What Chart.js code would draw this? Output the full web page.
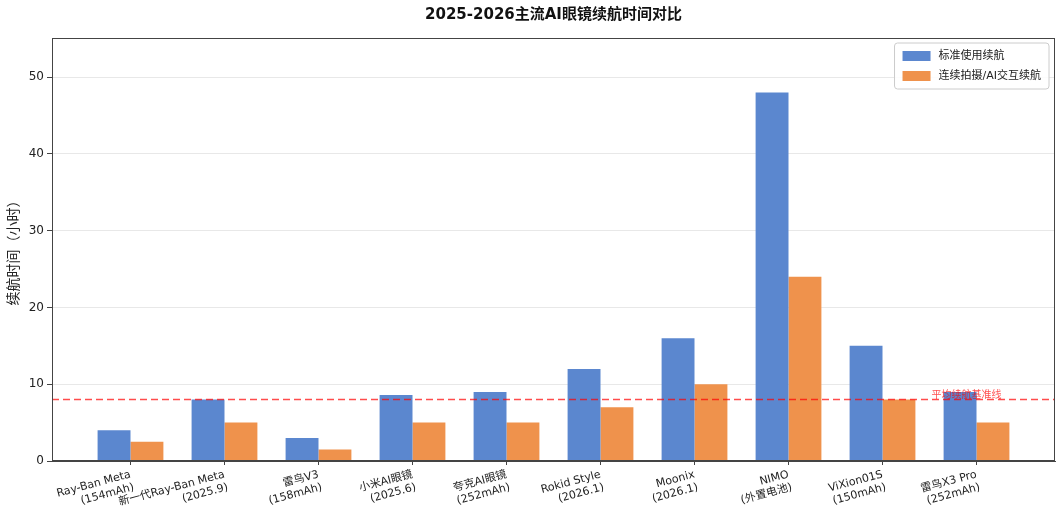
<!DOCTYPE html>
<html>
<head>
<meta charset="utf-8">
<script src="https://cdn.jsdelivr.net/npm/chart.js@4"></script>
<style>
  html, body { margin: 0; padding: 0; background: #fff; }
  #wrap { width: 1060px; height: 514px; }
</style>
</head>
<body>
<div id="wrap"><canvas id="batteryChart" width="1060" height="514"></canvas></div>
<script>
// Data
const categories = [
  ["Ray-Ban Meta", "(154mAh)"],
  ["新一代Ray-Ban Meta", "(2025.9)"],
  ["雷鸟V3", "(158mAh)"],
  ["小米AI眼镜", "(2025.6)"],
  ["夸克AI眼镜", "(252mAh)"],
  ["Rokid Style", "(2026.1)"],
  ["Moonix", "(2026.1)"],
  ["NIMO", "(外置电池)"],
  ["ViXion01S", "(150mAh)"],
  ["雷鸟X3 Pro", "(252mAh)"]
];
const typicalHours = [4, 8, 3, 8.6, 9, 12, 16, 48, 15, 9];
const heavyHours = [2.5, 5, 1.5, 5, 5, 7, 10, 24, 8, 5];
const avgLine = 8;
const seriesNames = ["标准使用续航", "连续拍摄/AI交互续航"];
const avgLabel = "平均续航基准线";
const yTicks = [0, 10, 20, 30, 40, 50];

const xMin = -0.835, xMax = categories.length - 1 + 0.835;
const BLUE = "#5b87cf";
const ORANGE = "#ef924c";
const FONT = "'DejaVu Sans', 'Noto Sans CJK SC', sans-serif";

// frame + legend + ref label
const decorPlugin = {
  id: "decor",
  afterDraw(chart) {
    const { ctx, chartArea: a, scales } = chart;
    ctx.save();
    ctx.strokeStyle = "#444";
    ctx.lineWidth = 1;
    ctx.strokeRect(a.left + 0.5, a.top + 0.5, a.right - a.left - 1, a.bottom - a.top - 1);

    // avg label
    ctx.fillStyle = "rgba(255,0,0,0.7)";
    ctx.font = "10px " + FONT;
    ctx.textBaseline = "bottom";
    ctx.textAlign = "left";
    ctx.fillText(avgLabel, scales.x.getPixelForValue(8.52), scales.y.getPixelForValue(avgLine) + 1);

    // legend
    ctx.font = "11px " + FONT;
    const tw = Math.max(...seriesNames.map((n) => ctx.measureText(n).width));
    const bw = 52 + tw, bh = 46;
    const bx = a.right - 6 - bw, by = a.top + 5;
    ctx.fillStyle = "rgba(255,255,255,0.85)";
    ctx.strokeStyle = "#ccc";
    ctx.beginPath();
    ctx.roundRect(bx, by, bw, bh, 3);
    ctx.fill();
    ctx.stroke();
    const cols = [BLUE, ORANGE];
    ctx.textBaseline = "middle";
    seriesNames.forEach((name, i) => {
      const yy = by + 13 + i * 20;
      ctx.fillStyle = cols[i];
      ctx.fillRect(bx + 8, yy - 5, 28, 10);
      ctx.fillStyle = "#222";
      ctx.fillText(name, bx + 44, yy);
    });
    ctx.restore();
  }
};

const ctx = document.getElementById("batteryChart").getContext("2d");
new Chart(ctx, {
  type: "bar",
  data: {
    datasets: [
      {
        label: seriesNames[0],
        data: typicalHours.map((v, i) => ({ x: i, y: v })),
        backgroundColor: BLUE,
        categoryPercentage: 0.7,
        barPercentage: 1.0,
        order: 2
      },
      {
        label: seriesNames[1],
        data: heavyHours.map((v, i) => ({ x: i, y: v })),
        backgroundColor: ORANGE,
        categoryPercentage: 0.7,
        barPercentage: 1.0,
        order: 2
      },
      {
        type: "line",
        label: avgLabel,
        data: [{ x: xMin, y: avgLine }, { x: xMax, y: avgLine }],
        borderColor: "rgba(255,0,0,0.7)",
        borderWidth: 1.5,
        borderDash: [7, 4],
        pointRadius: 0,
        order: 1
      }
    ]
  },
  options: {
    responsive: false,
    animation: false,
    layout: { padding: { left: 6, right: 5, top: 0, bottom: 0 } },
    plugins: {
      legend: { display: false },
      tooltip: { enabled: false },
      title: {
        display: true,
        fullSize: false,
        text: "2025-2026主流AI眼镜续航时间对比",
        color: "#111",
        font: { family: FONT, size: 15, weight: "bold" },
        padding: { top: 6, bottom: 14 }
      }
    },
    scales: {
      x: {
        type: "linear",
        min: xMin,
        max: xMax,
        offset: false,
        afterBuildTicks: (s) => { s.ticks = categories.map((c, i) => ({ value: i })); },
        afterFit: (s) => { s.height = 53; },
        grid: { offset: false, drawOnChartArea: false, tickLength: 4, tickColor: "#444" },
        border: { color: "#444" },
        ticks: {
          autoSkip: false,
          minRotation: 15,
          maxRotation: 15,
          padding: 3,
          color: "#222",
          font: { family: FONT, size: 11 },
          callback: (v) => categories[v] || ""
        }
      },
      y: {
        min: 0,
        max: 55.1,
        afterBuildTicks: (s) => { s.ticks = yTicks.map((v) => ({ value: v })); },
        afterFit: (s) => { s.width = 46; },
        grid: { color: "rgba(0,0,0,0.09)", tickLength: 5, tickColor: "#444" },
        border: { color: "#444" },
        title: {
          display: true,
          text: "续航时间（小时）",
          color: "#222",
          font: { family: FONT, size: 14 },
          padding: { top: 0, bottom: 2 }
        },
        ticks: {
          color: "#222",
          padding: 3,
          font: { family: FONT, size: 12 }
        }
      }
    }
  },
  plugins: [decorPlugin]
});
</script>
</body>
</html>
